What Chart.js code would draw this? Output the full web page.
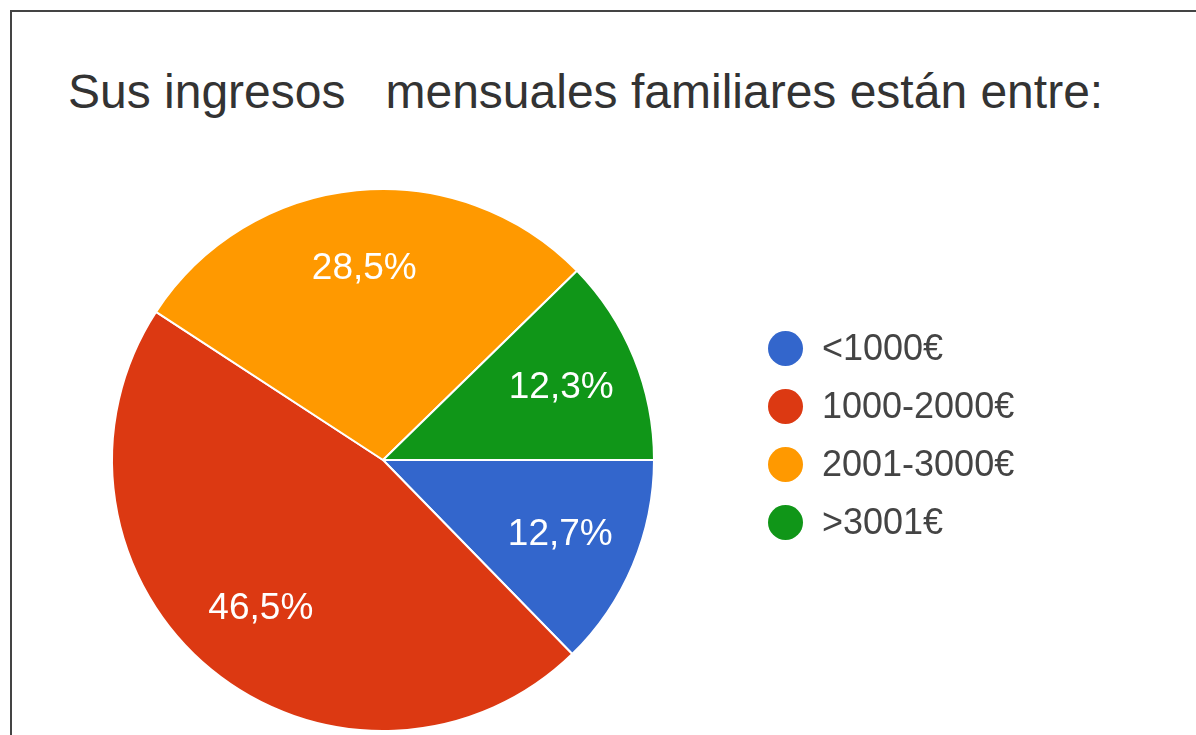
<!DOCTYPE html>
<html>
<head>
<meta charset="utf-8">
<script src="https://cdn.jsdelivr.net/npm/chart.js@4/dist/chart.umd.min.js"></script>
<style>
  html, body { margin: 0; padding: 0; background: #fff; }
  body { width: 1196px; height: 735px; position: relative; overflow: hidden; font-family: "Liberation Sans", Arial, sans-serif; }
  #frame { position: absolute; left: 10px; top: 10px; width: 1200px; height: 740px; border-left: 2px solid #444; border-top: 2px solid #444; }
  #title { position: absolute; left: 68px; top: 64px; font-size: 48px; color: #333; white-space: pre; }
  #chart { position: absolute; left: 0; top: 0; }
  #legend { position: absolute; left: 768px; top: 330px; }
  .item { height: 58px; display: flex; align-items: center; font-size: 36px; color: #444; }
  .dot { width: 35px; height: 35px; border-radius: 50%; margin-right: 19px; margin-top: -22px; }
  .item span { margin-top: -22px; }
</style>
</head>
<body>
<div id="frame"></div>
<div id="title">Sus ingresos   mensuales familiares están entre:</div>
<canvas id="chart" width="1196" height="735"></canvas>
<div id="legend"></div>
<script>
const categories = ['<1000€', '1000-2000€', '2001-3000€', '>3001€'];
const shares = [12.7, 46.5, 28.5, 12.3];
const colors = ['#3366cc', '#dc3912', '#ff9900', '#109618'];

// percentage labels inside the slices
const sliceLabels = {
    id: 'sliceLabels',
    afterDatasetsDraw(chart) {
        const ctx = chart.ctx;
        const meta = chart.getDatasetMeta(0);
        ctx.save();
        ctx.fillStyle = '#fff';
        ctx.font = '37px "Liberation Sans", Arial, sans-serif';
        ctx.textAlign = 'center';
        ctx.textBaseline = 'middle';
        meta.data.forEach((arc, i) => {
            const mid = (arc.startAngle + arc.endAngle) / 2;
            const r = arc.outerRadius * 0.71;
            const x = arc.x + Math.cos(mid) * r;
            const y = arc.y + Math.sin(mid) * r;
            ctx.fillText(shares[i].toFixed(1).replace('.', ',') + '%', x, y);
        });
        ctx.restore();
    }
};

new Chart(document.getElementById('chart'), {
    type: 'pie',
    data: {
        labels: categories,
        datasets: [{
            data: shares,
            backgroundColor: colors,
            borderColor: '#fff',
            borderWidth: 2
        }]
    },
    options: {
        responsive: false,
        animation: false,
        rotation: 90,
        layout: { padding: { left: 111, right: 541, top: 188, bottom: 3 } },
        plugins: {
            legend: { display: false },
            tooltip: { enabled: false }
        }
    },
    plugins: [sliceLabels]
});

const legend = document.getElementById('legend');
categories.forEach((c, i) => {
    const row = document.createElement('div');
    row.className = 'item';
    row.innerHTML = '<div class="dot" style="background:' + colors[i] + '"></div><span></span>';
    row.querySelector('span').textContent = c;
    legend.appendChild(row);
});
</script>
</body>
</html>
